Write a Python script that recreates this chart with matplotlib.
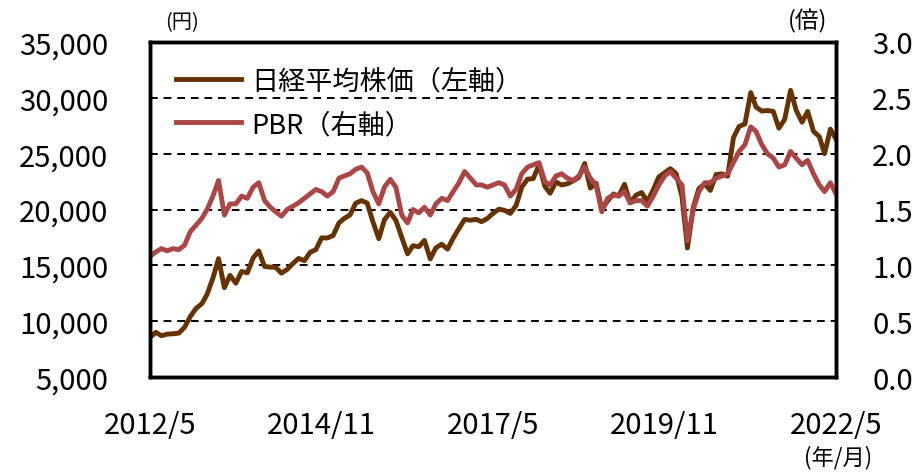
import pandas as pd
import matplotlib
matplotlib.use("Agg")
from matplotlib import pyplot as plt

plt.rcParams['font.family'] = ['Noto Sans CJK JP', 'DejaVu Sans']

# monthly points, 2012/5 .. 2022/5
dates = pd.date_range('2012-05-01', periods=121, freq='MS')

nikkei = [
    8540, 9000, 8700, 8840, 8870, 8930, 9450, 10400,
    11140, 11560, 12400, 13860, 15600, 13000, 14100, 13400, 14450, 14330, 15660, 16290,
    14900, 14840, 14830, 14300, 14630, 15160, 15620, 15420, 16170, 16410, 17460, 17450,
    17670, 18800, 19200, 19520, 20560, 20800, 20580, 18890, 17390, 19080, 19750, 19030,
    17520, 16030, 16760, 16670, 17230, 15580, 16570, 16890, 16450, 17430, 18310, 19110,
    19040, 19120, 18910, 19200, 19650, 20030, 19930, 19650, 20360, 22010, 22720, 22760,
    24000, 22070, 21450, 22470, 22200, 22300, 22550, 22870, 24120, 21920, 22350, 20010,
    20770, 21390, 21210, 22260, 20600, 21280, 21520, 20700, 21760, 22930, 23290, 23660,
    23210, 21140, 16550, 20190, 21880, 22290, 21710, 23140, 23190, 22980, 26430, 27440,
    27660, 30470, 29180, 28810, 28860, 28790, 27280, 28090, 30670, 28890, 27820, 28790,
    27000, 26530, 25000, 27200, 26300,
]

pbr = [
    1.08, 1.12, 1.15, 1.13, 1.15, 1.14, 1.18, 1.30,
    1.36, 1.42, 1.50, 1.62, 1.76, 1.45, 1.55, 1.55, 1.62, 1.60, 1.70, 1.74,
    1.58, 1.52, 1.48, 1.44, 1.50, 1.53, 1.56, 1.60, 1.64, 1.68, 1.66, 1.62,
    1.66, 1.78, 1.80, 1.82, 1.86, 1.88, 1.83, 1.66, 1.55, 1.70, 1.77, 1.70,
    1.45, 1.38, 1.50, 1.47, 1.52, 1.45, 1.55, 1.60, 1.58, 1.66, 1.74, 1.84,
    1.78, 1.72, 1.72, 1.70, 1.72, 1.74, 1.72, 1.62, 1.68, 1.82, 1.88, 1.90,
    1.92, 1.75, 1.72, 1.80, 1.82, 1.78, 1.76, 1.80, 1.88, 1.78, 1.72, 1.48,
    1.60, 1.63, 1.62, 1.66, 1.56, 1.58, 1.58, 1.53, 1.62, 1.72, 1.80, 1.84,
    1.78, 1.72, 1.22, 1.50, 1.66, 1.74, 1.74, 1.78, 1.80, 1.82, 1.92, 2.02,
    2.08, 2.24, 2.20, 2.08, 2.00, 1.96, 1.88, 1.90, 2.02, 1.96, 1.90, 1.94,
    1.82, 1.72, 1.66, 1.74, 1.64,
]

xtick_dates = ['2012-05-01', '2014-11-01', '2017-05-01', '2019-11-01', '2022-05-01']
xtick_labels = ['2012/5', '2014/11', '2017/5', '2019/11', '2022/5']
left_ticks = [5000, 10000, 15000, 20000, 25000, 30000, 35000]
right_ticks = [0.0, 0.5, 1.0, 1.5, 2.0, 2.5, 3.0]

brown = '#663300'
red = '#AA4646'

fig = plt.figure(figsize=(9.19, 4.77), dpi=100)
ax = fig.add_axes([0.1632, 0.2075, 0.7465, 0.7024])
ax2 = ax.twinx()

ax.plot(dates, nikkei, color=brown, lw=3.5, solid_joinstyle='round',
        label='日経平均株価（左軸）')
ax2.plot(dates, pbr, color=red, lw=3.5, solid_joinstyle='round',
         label='PBR（右軸）')

ax.set_xlim(dates[0], dates[-1])
ax.set_ylim(5000, 35000)
ax2.set_ylim(0, 3.0)

ax.set_yticks(left_ticks)
ax.set_yticklabels([f'{v:,}' for v in left_ticks])
ax2.set_yticks(right_ticks)
ax2.set_yticklabels([f'{v:.1f}' for v in right_ticks])
ax.set_xticks(pd.to_datetime(xtick_dates))
ax.set_xticklabels(xtick_labels)

ax.grid(axis='y', color='black', linestyle=(0, (4, 3)), linewidth=1.4)
ax.set_axisbelow(True)

ax.tick_params(axis='y', length=0, labelsize=21, pad=30)
ax.tick_params(axis='x', length=0, labelsize=21, pad=24)
ax2.tick_params(axis='y', length=0, labelsize=21, pad=26)

for a in (ax, ax2):
    for s in a.spines.values():
        s.set_linewidth(2.5)
        s.set_color('black')

h1, l1 = ax.get_legend_handles_labels()
h2, l2 = ax2.get_legend_handles_labels()
leg = ax2.legend(h1 + h2, l1 + l2, loc='upper left', bbox_to_anchor=(0.0, 1.0),
                 frameon=False, fontsize=19.5, handlelength=2.4, handletextpad=0.4,
                 labelspacing=0.6, borderaxespad=0.55)

fig.text(0.198, 0.953, '(円)', fontsize=14.5, ha='center', va='center')
fig.text(0.879, 0.955, '(倍)', fontsize=17, ha='center', va='center')
fig.text(0.912, 0.04, '(年/月)', fontsize=16, ha='center', va='center')

fig.savefig('out.png', dpi=100)
